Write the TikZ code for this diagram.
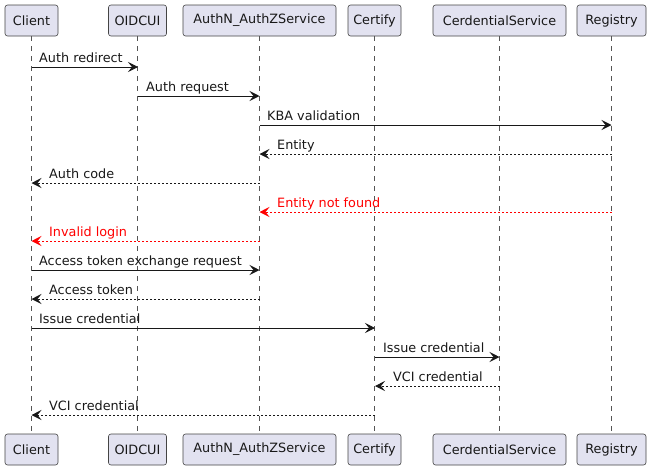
\documentclass[tikz,border=0pt]{standalone}
\usepackage{fontspec}
\setmainfont{DejaVu Sans}
\usetikzlibrary{arrows.meta}
\definecolor{partfill}{HTML}{E2E2F0}
\definecolor{partline}{HTML}{181818}
\definecolor{boxline}{HTML}{444444}
\definecolor{lifegray}{HTML}{555555}
\definecolor{msgred}{HTML}{FF0000}
\tikzset{
  part/.style={draw=boxline, line width=0.6pt, fill=partfill, rounded corners=2.5pt,
    minimum height=31pt, inner xsep=0pt, font=\fontsize{12.8pt}{15pt}\selectfont, text=partline},
  life/.style={draw=lifegray, line width=0.5pt, dash pattern=on 5pt off 5pt},
  tipa/.style={-{Stealth[length=10pt,width=10pt,inset=4pt]}},
  msg/.style={tipa, line width=1pt, draw=partline},
  ret/.style={tipa, line width=1pt, draw=partline, dash pattern=on 2pt off 2pt},
  redret/.style={tipa, line width=1pt, draw=msgred, dash pattern=on 2pt off 2pt},
  lbl/.style={font=\fontsize{12.8pt}{15pt}\selectfont, inner sep=0pt, anchor=base west, text=partline},
}
\begin{document}
\begin{tikzpicture}[x=1pt,y=-1pt]
\useasboundingbox (0,0) rectangle (651,469);
% top participants
\node[part, minimum width=53pt] (cT) at (31.5,20.5) {Client};
\node[part, minimum width=58pt] (oT) at (137.5,20.5) {OIDCUI};
\node[part, minimum width=153pt] (aT) at (259.5,20.5) {AuthN\_AuthZService};
\node[part, minimum width=53pt] (zT) at (374.5,20.5) {Certify};
\node[part, minimum width=133pt] (sT) at (499.5,20.5) {CerdentialService};
\node[part, minimum width=69pt] (rT) at (611.5,20.5) {Registry};
% bottom participants
\node[part, minimum width=53pt] (cB) at (31.5,449.5) {Client};
\node[part, minimum width=58pt] (oB) at (137.5,449.5) {OIDCUI};
\node[part, minimum width=153pt] (aB) at (259.5,449.5) {AuthN\_AuthZService};
\node[part, minimum width=53pt] (zB) at (374.5,449.5) {Certify};
\node[part, minimum width=133pt] (sB) at (499.5,449.5) {CerdentialService};
\node[part, minimum width=69pt] (rB) at (611.5,449.5) {Registry};
% lifelines
\foreach \p in {c,o,a,z,s,r}{\draw[life] (\p T.south) -- (\p B.north);}
% lifeline coordinates
\foreach \p/\x in {c/31.5,o/138,a/259.5,z/375,s/499.5,r/611.5}{
  \foreach \n/\y in {1/67,2/96,3/125,4/154,5/183,6/212,7/241,8/270,9/299,10/328,11/357,12/386,13/415}{
    \coordinate (\p\n) at (\x,\y);
  }
}
% messages
\draw[msg] (c1) -- (o1);
\node[lbl] (t1) at (39,62) {Auth redirect};
\draw[msg] (o2) -- (a2);
\node[lbl] (t2) at (146,91) {Auth request};
\draw[msg] (a3) -- (r3);
\node[lbl] (t3) at (267,120) {KBA validation};
\draw[ret] (r4) -- (a4);
\node[lbl] (t4) at (277,149) {Entity};
\draw[ret] (a5) -- (c5);
\node[lbl] (t5) at (49,178) {Auth code};
\draw[redret] (r6) -- (a6);
\node[lbl, text=msgred] (t6) at (277,207) {Entity not found};
\draw[redret] (a7) -- (c7);
\node[lbl, text=msgred] (t7) at (49,236) {Invalid login};
\draw[msg] (c8) -- (a8);
\node[lbl] (t8) at (39,265) {Access token exchange request};
\draw[ret] (a9) -- (c9);
\node[lbl] (t9) at (49,294) {Access token};
\draw[msg] (c10) -- (z10);
\node[lbl] (t10) at (39,323) {Issue credential};
\draw[msg] (z11) -- (s11);
\node[lbl] (t11) at (383,352) {Issue credential};
\draw[ret] (s12) -- (z12);
\node[lbl] (t12) at (393,381) {VCI credential};
\draw[ret] (z13) -- (c13);
\node[lbl] (t13) at (49,410) {VCI credential};
\end{tikzpicture}
\end{document}
